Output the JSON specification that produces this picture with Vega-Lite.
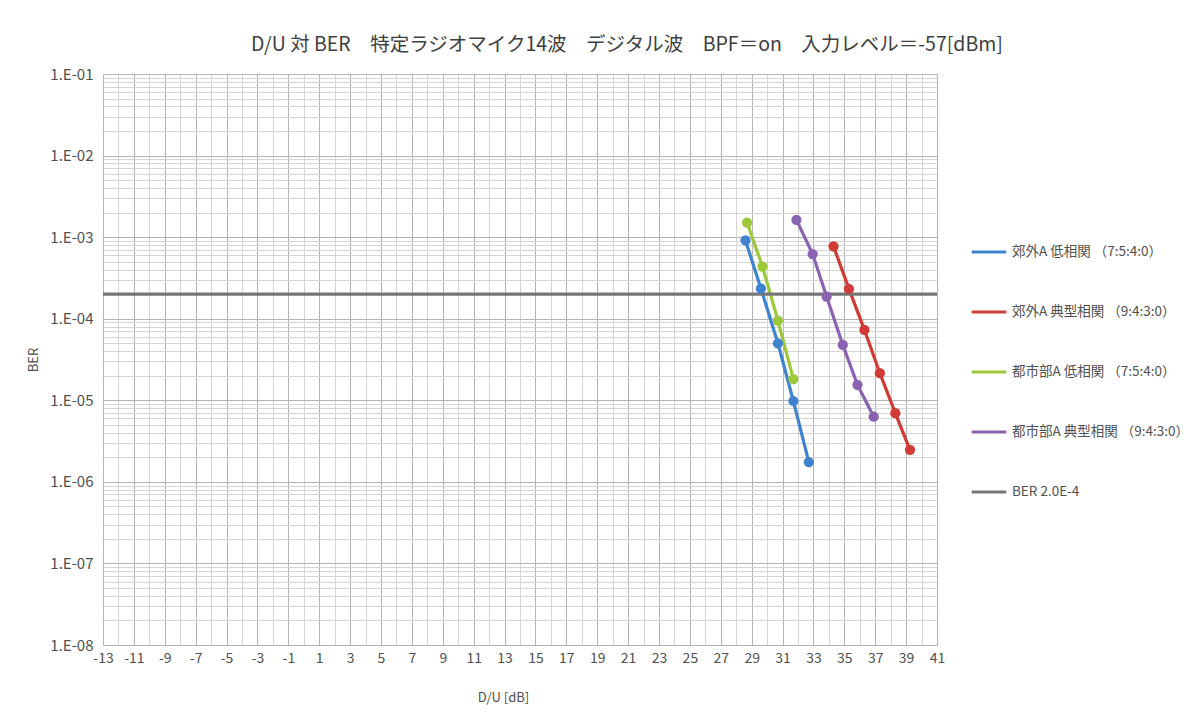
{
  "$schema": "https://vega.github.io/schema/vega-lite/v6.json",
  "width": 834,
  "height": 571,
  "autosize": {"type": "none"},
  "padding": {"left": 103, "top": 74, "right": 264, "bottom": 73},
  "background": "white",
  "title": {
    "text": "D/U 対 BER　特定ラジオマイク14波　デジタル波　BPF＝on　入力レベル＝-57[dBm]",
    "anchor": "middle",
    "frame": "group",
    "dx": 107,
    "offset": 12,
    "font": "Noto Sans CJK JP",
    "fontSize": 19.5,
    "fontWeight": "normal",
    "color": "#404040"
  },
  "config": {
    "font": "Noto Sans CJK JP",
    "view": {"stroke": "#bdbdbd"},
    "legend": {
      "orient": "none",
      "legendX": 867,
      "legendY": 159,
      "title": null,
      "symbolType": "stroke",
      "symbolSize": 1200,
      "symbolStrokeWidth": 3,
      "rowPadding": 34,
      "labelFont": "Noto Sans CJK JP",
      "labelFontSize": 13.5,
      "labelColor": "#505050",
      "labelLimit": 300,
      "labelOffset": 4
    }
  },
  "data": {
    "values": [
      {"series": "郊外A 低相関 （7:5:4:0）", "du": 28.6, "ber": 0.00091},
      {"series": "郊外A 低相関 （7:5:4:0）", "du": 29.6, "ber": 0.000234},
      {"series": "郊外A 低相関 （7:5:4:0）", "du": 30.7, "ber": 0.00005},
      {"series": "郊外A 低相関 （7:5:4:0）", "du": 31.7, "ber": 0.0000098},
      {"series": "郊外A 低相関 （7:5:4:0）", "du": 32.7, "ber": 0.00000175},
      {"series": "郊外A 典型相関 （9:4:3:0）", "du": 34.3, "ber": 0.00077},
      {"series": "郊外A 典型相関 （9:4:3:0）", "du": 35.3, "ber": 0.000232},
      {"series": "郊外A 典型相関 （9:4:3:0）", "du": 36.3, "ber": 0.000073},
      {"series": "郊外A 典型相関 （9:4:3:0）", "du": 37.3, "ber": 0.0000215},
      {"series": "郊外A 典型相関 （9:4:3:0）", "du": 38.3, "ber": 0.00000695},
      {"series": "郊外A 典型相関 （9:4:3:0）", "du": 39.25, "ber": 0.00000247},
      {"series": "都市部A 低相関 （7:5:4:0）", "du": 28.7, "ber": 0.00151},
      {"series": "都市部A 低相関 （7:5:4:0）", "du": 29.7, "ber": 0.000436},
      {"series": "都市部A 低相関 （7:5:4:0）", "du": 30.7, "ber": 0.000095},
      {"series": "都市部A 低相関 （7:5:4:0）", "du": 31.7, "ber": 0.0000182},
      {"series": "都市部A 典型相関 （9:4:3:0）", "du": 31.9, "ber": 0.00163},
      {"series": "都市部A 典型相関 （9:4:3:0）", "du": 32.95, "ber": 0.00062},
      {"series": "都市部A 典型相関 （9:4:3:0）", "du": 33.85, "ber": 0.000187},
      {"series": "都市部A 典型相関 （9:4:3:0）", "du": 34.9, "ber": 0.0000478},
      {"series": "都市部A 典型相関 （9:4:3:0）", "du": 35.85, "ber": 0.0000155},
      {"series": "都市部A 典型相関 （9:4:3:0）", "du": 36.9, "ber": 0.0000063},
      {"series": "BER 2.0E-4", "du": -13, "ber": 0.0002},
      {"series": "BER 2.0E-4", "du": 41, "ber": 0.0002}
    ]
  },
  "encoding": {
    "x": {
      "field": "du",
      "type": "quantitative",
      "scale": {"domain": [-13, 41], "nice": false, "zero": false},
      "axis": {
        "title": "D/U [dB]",
        "titleFont": "Noto Sans CJK JP",
        "titleFontSize": 13,
        "titleFontWeight": "normal",
        "titleColor": "#505050",
        "titleX": 400,
        "titleY": 46,
        "format": "d",
        "values": [-13,-12.5,-12,-11.5,-11,-10.5,-10,-9.5,-9,-8.5,-8,-7.5,-7,-6.5,-6,-5.5,-5,-4.5,-4,-3.5,-3,-2.5,-2,-1.5,-1,-0.5,0,0.5,1,1.5,2,2.5,3,3.5,4,4.5,5,5.5,6,6.5,7,7.5,8,8.5,9,9.5,10,10.5,11,11.5,12,12.5,13,13.5,14,14.5,15,15.5,16,16.5,17,17.5,18,18.5,19,19.5,20,20.5,21,21.5,22,22.5,23,23.5,24,24.5,25,25.5,26,26.5,27,27.5,28,28.5,29,29.5,30,30.5,31,31.5,32,32.5,33,33.5,34,34.5,35,35.5,36,36.5,37,37.5,38,38.5,39,39.5,40,40.5,41],
        "labelExpr": "abs(datum.value % 2) == 1 ? (datum.value < 0 ? '-' + format(-datum.value, 'd') : format(datum.value, 'd')) : ''",
        "labelOverlap": false,
        "labelFlush": false,
        "labelFont": "Noto Sans CJK JP",
        "labelFontSize": 14,
        "labelColor": "#505050",
        "labelPadding": 6,
        "ticks": false,
        "domain": false,
        "grid": true,
        "gridColor": {"condition": {"test": "abs(datum.value % 2) == 1", "value": "#b4b4b4"}, "value": "#d4d4d4"},
        "gridWidth": 1
      }
    },
    "y": {
      "field": "ber",
      "type": "quantitative",
      "scale": {"type": "log", "domain": [1e-8, 0.1], "nice": false},
      "axis": {
        "title": "BER",
        "titleFont": "Noto Sans CJK JP",
        "titleFontSize": 13,
        "titleFontWeight": "normal",
        "titleColor": "#505050",
        "titleX": -63,
        "values": [1e-8,2e-8,3e-8,4e-8,5e-8,6e-8,7e-8,8e-8,9e-8,1e-7,2e-7,3e-7,4e-7,5e-7,6e-7,7e-7,8e-7,9e-7,1e-6,2e-6,3e-6,4e-6,5e-6,6e-6,7e-6,8e-6,9e-6,1e-5,2e-5,3e-5,4e-5,5e-5,6e-5,7e-5,8e-5,9e-5,1e-4,2e-4,3e-4,4e-4,5e-4,6e-4,7e-4,8e-4,9e-4,1e-3,2e-3,3e-3,4e-3,5e-3,6e-3,7e-3,8e-3,9e-3,1e-2,2e-2,3e-2,4e-2,5e-2,6e-2,7e-2,8e-2,9e-2,1e-1],
        "labelExpr": "abs(log(datum.value)/LN10 - round(log(datum.value)/LN10)) < 1e-6 ? '1.E-0' + format(-round(log(datum.value)/LN10), 'd') : ''",
        "labelOverlap": false,
        "labelFont": "Noto Sans CJK JP",
        "labelFontSize": 15,
        "labelColor": "#505050",
        "labelPadding": 10,
        "ticks": false,
        "domain": false,
        "grid": true,
        "gridColor": {"condition": {"test": "abs(log(datum.value)/LN10 - round(log(datum.value)/LN10)) < 1e-6", "value": "#b4b4b4"}, "value": "#d4d4d4"},
        "gridWidth": 1
      }
    },
    "color": {
      "field": "series",
      "type": "nominal",
      "scale": {
        "domain": ["郊外A 低相関 （7:5:4:0）", "郊外A 典型相関 （9:4:3:0）", "都市部A 低相関 （7:5:4:0）", "都市部A 典型相関 （9:4:3:0）", "BER 2.0E-4"],
        "range": ["#3f83d0", "#d23a36", "#9cc83a", "#8a62b4", "#767676"]
      }
    }
  },
  "layer": [
    {
      "mark": {"type": "line", "strokeWidth": 3.2},
      "encoding": {"order": {"field": "du", "type": "quantitative"}}
    },
    {
      "transform": [{"filter": "datum.series != 'BER 2.0E-4'"}],
      "mark": {"type": "point", "filled": true, "size": 105, "opacity": 1}
    }
  ]
}
